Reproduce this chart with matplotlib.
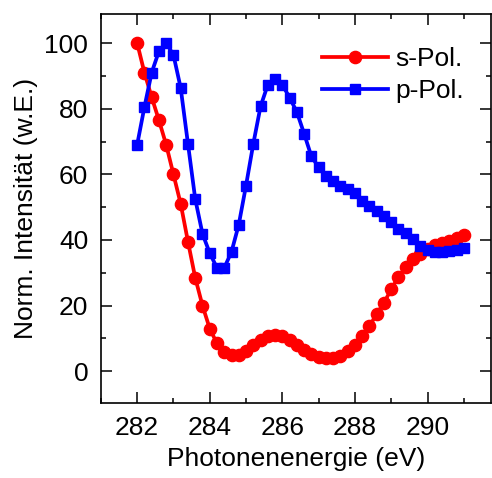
import numpy as np
import matplotlib
matplotlib.use("Agg")
from matplotlib import pyplot as plt
from matplotlib.ticker import MultipleLocator

plt.rcParams['font.family'] = ['Liberation Sans', 'DejaVu Sans']

energy = [282.0, 282.2, 282.4, 282.6, 282.8, 283.0, 283.2, 283.4, 283.6, 283.8,
          284.0, 284.2, 284.4, 284.6, 284.8, 285.0, 285.2, 285.4, 285.6, 285.8,
          286.0, 286.2, 286.4, 286.6, 286.8, 287.0, 287.2, 287.4, 287.6, 287.8,
          288.0, 288.2, 288.4, 288.6, 288.8, 289.0, 289.2, 289.4, 289.6, 289.8,
          290.0, 290.2, 290.4, 290.6, 290.8, 291.0]

s_pol = [100, 91, 83.5, 76.5, 69, 60, 51, 39.5, 28.5, 20,
         13, 8.5, 6, 5, 5, 6.3, 8, 9.6, 10.7, 11.2,
         10.8, 9.6, 8, 6.5, 5.3, 4.4, 3.9, 3.9, 4.7, 6.3,
         8.1, 10.7, 13.7, 17.5, 20.8, 25, 28.7, 31.8, 34.2, 35.8,
         37.3, 38.5, 39, 39.6, 40.5, 41.5]

p_pol = [69, 80.5, 91, 97.5, 100, 96.4, 86.3, 69.3, 52.5, 41.9,
         36, 31.5, 31.5, 36.4, 44.7, 56.6, 69.3, 80.7, 87.3, 89,
         87.3, 83.4, 79, 72.4, 65.5, 62.2, 59.4, 57.9, 56.6, 55.6,
         54.3, 52, 50.3, 48.8, 47.3, 45.5, 43.5, 42, 40.2, 38.2,
         37, 36.2, 36.2, 36.5, 37, 37.5]

fig = plt.figure(figsize=(4.92, 4.78), dpi=100)
ax = fig.add_axes([0.205, 0.156, 0.793, 0.815])

ax.plot(energy, s_pol, color='#ff0000', lw=2.7, marker='o', ms=8.8, label='s-Pol.')
ax.plot(energy, p_pol, color='#0000ff', lw=2.7, marker='s', ms=7.5, label='p-Pol.')

ax.set_xlim(281.0, 291.75)
ax.set_ylim(-9.8, 108.9)
ax.xaxis.set_major_locator(MultipleLocator(2))
ax.xaxis.set_minor_locator(MultipleLocator(1))
ax.yaxis.set_major_locator(MultipleLocator(20))
ax.yaxis.set_minor_locator(MultipleLocator(10))
ax.tick_params(which='both', direction='in', top=True, right=True,
               labelsize=19, width=1.1)
ax.tick_params(which='major', length=8)
ax.tick_params(which='minor', length=3.6)
ax.tick_params(axis='x', which='major', pad=9)
ax.tick_params(axis='y', which='major', pad=9)
for sp in ax.spines.values():
    sp.set_linewidth(1.2)

ax.set_xlabel('Photonenenergie (eV)', fontsize=19, labelpad=5)
ax.set_ylabel('Norm. Intensität (w.E.)', fontsize=19, labelpad=5)

ax.legend(loc='upper right', frameon=False, fontsize=19, handlelength=2.5,
          handletextpad=0.3, labelspacing=0.3, borderaxespad=0.4,
          bbox_to_anchor=(0.985, 0.968))

fig.savefig('out.png', dpi=100)
